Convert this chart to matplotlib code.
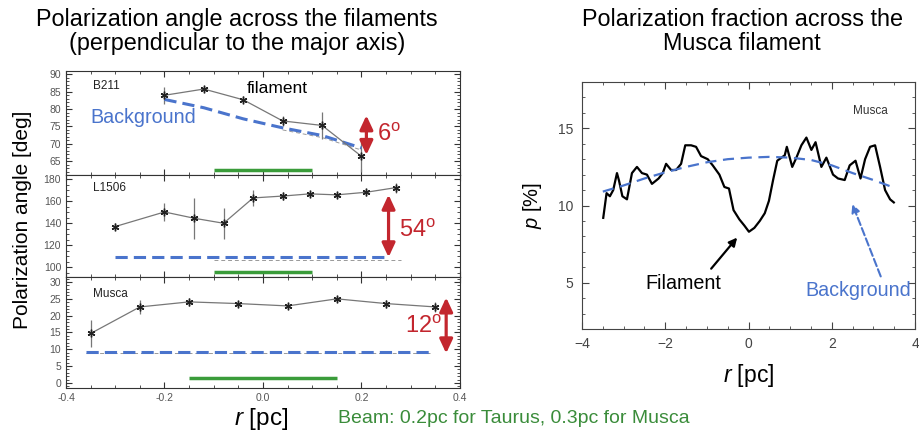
import matplotlib
matplotlib.use("Agg")
import matplotlib.pyplot as plt
from matplotlib.ticker import MultipleLocator

plt.rcParams['font.family'] = ['Liberation Sans', 'DejaVu Sans']
plt.rcParams['mathtext.fontset'] = 'custom'
plt.rcParams['mathtext.rm'] = 'Liberation Sans'
plt.rcParams['mathtext.it'] = 'Liberation Sans:italic'

# --- left: polarization angle profiles ---
b211_r = [-0.2, -0.12, -0.04, 0.04, 0.12, 0.2]
b211_pa = [84.0, 85.8, 82.7, 76.6, 75.3, 66.4]
b211_err = [2.5, 0.8, 1.0, 1.5, 4.0, 4.5]
b211_bg = [82.8, 80.4, 77.2, 74.6, 72.4, 68.8]

l1506_r = [-0.3, -0.2, -0.14, -0.08, -0.02, 0.04, 0.095, 0.15, 0.21, 0.27]
l1506_pa = [137.0, 150.3, 144.6, 140.0, 163.1, 164.8, 166.8, 165.9, 168.3, 172.5]
l1506_err = [3.5, 8.5, 18.5, 14.0, 7.0, 4.0, 3.0, 3.0, 3.0, 4.5]
l1506_bg_r = [-0.3, 0.25]
l1506_bg = [108.9, 108.9]

musca_r = [-0.35, -0.25, -0.15, -0.05, 0.05, 0.15, 0.25, 0.35]
musca_pa = [14.7, 22.6, 24.1, 23.6, 22.9, 25.0, 23.6, 22.6]
musca_err = [4.0, 2.0, 1.2, 0.9, 0.8, 0.8, 1.2, 1.5]
musca_bg_r = [-0.36, 0.34]
musca_bg = [9.2, 9.2]

# --- right: polarization fraction across Musca ---
p_r = [-3.49, -3.41, -3.33, -3.25, -3.16, -3.11, -3.03, -2.92, -2.80, -2.68,
       -2.56, -2.44, -2.32, -2.16, -2.06, -1.98, -1.86, -1.74, -1.62, -1.52,
       -1.38, -1.26, -1.14, -0.98, -0.86, -0.70, -0.58, -0.47, -0.36, -0.22,
       -0.10, 0.01, 0.14, 0.27, 0.39, 0.49, 0.59, 0.69, 0.79, 0.87,
       0.92, 1.05, 1.15, 1.27, 1.39, 1.51, 1.61, 1.75, 1.87, 2.03,
       2.15, 2.31, 2.43, 2.57, 2.69, 2.80, 2.92, 3.04, 3.16, 3.28,
       3.40, 3.49]
p_val = [9.2, 10.8, 10.6, 11.0, 12.1, 11.6, 10.6, 10.4, 12.1, 12.5,
         12.1, 12.0, 11.4, 11.75, 12.1, 12.7, 12.3, 12.3, 12.7, 13.9,
         13.9, 13.8, 13.2, 13.0, 12.6, 12.0, 11.2, 11.1, 9.7, 9.1,
         8.7, 8.3, 8.55, 9.0, 9.5, 10.3, 11.65, 12.9, 13.1, 13.25,
         13.8, 12.5, 13.1, 13.9, 14.4, 13.6, 14.1, 12.5, 13.1, 12.0,
         11.75, 11.65, 12.6, 12.9, 11.75, 13.0, 13.8, 13.9, 12.5, 11.0,
         10.4, 10.2]
bg_r = [-3.5, -3.0, -2.5, -2.0, -1.5, -1.0, -0.5, 0.0, 0.5, 1.0, 1.5, 2.0, 2.5, 3.0, 3.5]
bg_val = [10.9, 11.3, 11.75, 12.15, 12.5, 12.8, 13.0, 13.1, 13.15, 13.1, 12.95, 12.6, 12.1, 11.65, 11.15]

blue = '#4a74cc'
red = '#c3262e'
green = '#3a9c3a'
gray = '#777777'

fig = plt.figure(figsize=(9.19, 4.32), dpi=100)

ax1 = fig.add_axes([0.0718, 0.5949, 0.4287, 0.2407])
ax2 = fig.add_axes([0.0718, 0.3588, 0.4287, 0.2361])
ax3 = fig.add_axes([0.0718, 0.1019, 0.4287, 0.2569])

red_arrow = dict(arrowstyle='<|-|>,head_length=0.6,head_width=0.28', color=red,
                 lw=2.3, mutation_scale=14, shrinkA=0, shrinkB=0)


def style_left(ax, ylim, major, minor):
    ax.set_xlim(-0.4, 0.4)
    ax.set_ylim(*ylim)
    ax.xaxis.set_major_locator(MultipleLocator(0.2))
    ax.xaxis.set_minor_locator(MultipleLocator(0.05))
    ax.yaxis.set_major_locator(MultipleLocator(major))
    ax.yaxis.set_minor_locator(MultipleLocator(minor))
    ax.tick_params(which='both', direction='in', top=True, right=True,
                   labelsize=7.5, labelcolor='#555555', color='#333333')
    ax.tick_params(which='major', length=4)
    ax.tick_params(which='minor', length=2)
    for s in ax.spines.values():
        s.set_color('#333333')


def profile(ax, r, pa, err):
    ax.errorbar(r, pa, yerr=err, color=gray, lw=0.9, elinewidth=0.9,
                marker=(6, 2, 0), ms=5.5, mec='#222222', mfc='#222222', capsize=0)


style_left(ax1, (61, 91), 5, 1)
profile(ax1, b211_r, b211_pa, b211_err)
ax1.plot(b211_r[3:], [v - 0.6 for v in b211_bg[3:]], color='#999999', lw=0.7, ls=(0, (4, 3)))
ax1.plot(b211_r, b211_bg, color=blue, lw=2.2, ls=(0, (4, 2)))
ax1.plot([-0.1, 0.1], [62.3, 62.3], color=green, lw=2.5, solid_capstyle='butt')
ax1.text(-0.345, 86.8, 'B211', fontsize=8.5, va='center', color='#222222')
ax1.text(0.03, 86.0, 'filament', fontsize=12.5, va='center', ha='center')
ax1.text(-0.35, 77.5, 'Background', fontsize=14.2, va='center', color=blue)
ax1.annotate('', xy=(0.21, 66.8), xytext=(0.21, 78.2), arrowprops=red_arrow)
ax1.text(0.232, 72.5, '6$^{\\rm o}$', fontsize=17, color=red, va='center')
ax1.tick_params(labelbottom=False)

style_left(ax2, (91, 184), 20, 5)
profile(ax2, l1506_r, l1506_pa, l1506_err)
ax2.plot([-0.1, 0.28], [106.5, 106.5], color='#999999', lw=0.7, ls=(0, (4, 3)))
ax2.plot(l1506_bg_r, l1506_bg, color=blue, lw=2.2, ls=(0, (4, 2)))
ax2.plot([-0.1, 0.1], [95.2, 95.2], color=green, lw=2.5, solid_capstyle='butt')
ax2.text(-0.345, 172, 'L1506', fontsize=8.5, va='center', color='#222222')
ax2.annotate('', xy=(0.255, 109.0), xytext=(0.255, 166.0), arrowprops=red_arrow)
ax2.text(0.276, 133, '54$^{\\rm o}$', fontsize=17, color=red, va='center')
ax2.tick_params(labelbottom=False)

style_left(ax3, (-1.5, 31.5), 5, 1)
profile(ax3, musca_r, musca_pa, musca_err)
ax3.plot(musca_bg_r, [9.0, 9.0], color='#999999', lw=0.7, ls=(0, (4, 3)))
ax3.plot(musca_bg_r, musca_bg, color=blue, lw=2.2, ls=(0, (4, 2)))
ax3.plot([-0.15, 0.15], [1.5, 1.5], color=green, lw=2.5, solid_capstyle='butt')
ax3.text(-0.345, 26.5, 'Musca', fontsize=8.5, va='center', color='#222222')
ax3.annotate('', xy=(0.372, 8.8), xytext=(0.372, 25.4), arrowprops=red_arrow)
ax3.text(0.288, 16.8, '12$^{\\rm o}$', fontsize=17, color=red, va='center')
ax3.set_xticks([-0.4, -0.2, 0.0, 0.2, 0.4])
ax3.set_xticklabels(['-0.4', '-0.2', '0.0', '0.2', '0.4'])

fig.text(0.024, 0.491, 'Polarization angle [deg]', rotation=90, fontsize=15,
         ha='center', va='center')
fig.text(0.2845, 0.030, '$r$ [pc]', fontsize=17.5, ha='center', va='center')
fig.text(0.368, 0.032, 'Beam: 0.2pc for Taurus, 0.3pc for Musca', fontsize=14,
         color='#3a8c3a', ha='left', va='center')
fig.text(0.258, 0.955, 'Polarization angle across the filaments', fontsize=16.8,
         ha='center', va='center')
fig.text(0.258, 0.900, '(perpendicular to the major axis)', fontsize=16.8,
         ha='center', va='center')

# --- right panel ---
ax4 = fig.add_axes([0.6333, 0.2384, 0.3624, 0.5718])
ax4.plot(p_r, p_val, color='black', lw=1.6)
ax4.plot(bg_r, bg_val, color=blue, lw=1.6, ls=(0, (5, 3)))
ax4.set_xlim(-4, 4)
ax4.set_ylim(2, 18)
ax4.xaxis.set_major_locator(MultipleLocator(2))
ax4.xaxis.set_minor_locator(MultipleLocator(0.5))
ax4.yaxis.set_major_locator(MultipleLocator(5))
ax4.yaxis.set_minor_locator(MultipleLocator(1))
ax4.tick_params(which='both', direction='in', top=True, right=True,
                labelsize=10, labelcolor='#444444', color='#444444')
ax4.tick_params(which='major', length=5, pad=6)
ax4.tick_params(which='minor', length=2.5)
for s in ax4.spines.values():
    s.set_color('#444444')
ax4.set_xticks([-4, -2, 0, 2, 4])
ax4.set_xticklabels(['\u22124', '\u22122', '0', '2', '4'])
ax4.set_ylabel('$p$ [%]', fontsize=14.5, labelpad=10)
ax4.set_xlabel('$r$ [pc]', fontsize=16.5, labelpad=8)
ax4.text(2.92, 16.1, 'Musca', fontsize=8.5, ha='center', va='center', color='#333333')
ax4.annotate('', xy=(-0.23, 8.06), xytext=(-0.94, 5.77),
             arrowprops=dict(arrowstyle='-|>', color='black', lw=1.6, mutation_scale=12))
ax4.text(-1.57, 4.92, 'Filament', fontsize=14.2, ha='center', va='center')
ax4.annotate('', xy=(2.47, 10.26), xytext=(3.2, 5.24),
             arrowprops=dict(arrowstyle='-|>', color=blue, lw=1.5, ls='--', mutation_scale=12))
ax4.text(2.63, 4.49, 'Background', fontsize=14.2, ha='center', va='center', color=blue)

fig.text(0.8075, 0.955, 'Polarization fraction across the', fontsize=16.8,
         ha='center', va='center')
fig.text(0.8075, 0.900, 'Musca filament', fontsize=16.8, ha='center', va='center')

fig.savefig('out.png', dpi=100)
